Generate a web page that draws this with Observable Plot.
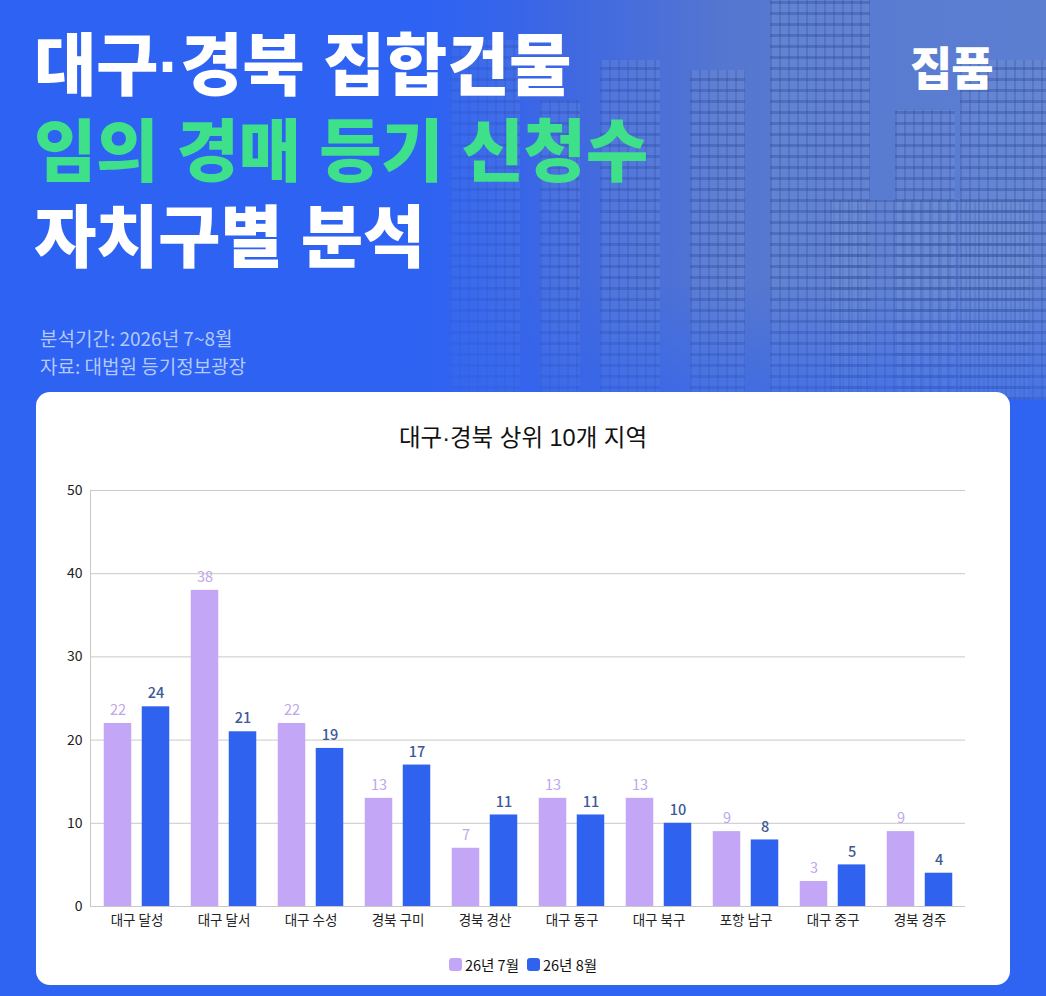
<!DOCTYPE html>
<html>
<head>
<meta charset="utf-8">
<script src="https://cdn.jsdelivr.net/npm/d3@7"></script>
<script src="https://cdn.jsdelivr.net/npm/@observablehq/plot@0.6"></script>
<style>
  html, body { margin: 0; padding: 0; }
  body {
    width: 1046px; height: 996px; overflow: hidden; position: relative;
    background: #2f63f1;
    font-family: "Noto Sans CJK KR", "Noto Sans", sans-serif;
  }
  #hero {
    position: absolute; left: 0; top: 0; width: 1046px; height: 400px;
    background: linear-gradient(90deg, #2d62f3 0%, #2f63f1 38%, #4469dc 52%, #5677cf 70%, #5c7fd2 100%);
    overflow: hidden;
  }
  .bld {
    position: absolute; bottom: 0;
    background-color: rgba(120,150,215,0.35);
    background-image:
      repeating-linear-gradient(0deg, rgba(40,70,150,0.35) 0 3px, transparent 3px 11px),
      repeating-linear-gradient(90deg, rgba(40,70,150,0.25) 0 2px, transparent 2px 9px);
  }
  #fade {
    position: absolute; left: 0; top: 0; width: 1046px; height: 400px;
    background: linear-gradient(180deg, rgba(47,99,241,0) 0%, rgba(47,99,241,0) 70%, rgba(47,99,241,0.55) 100%),
                linear-gradient(90deg, rgba(45,98,243,1) 0%, rgba(45,98,243,0.9) 36%, rgba(45,98,243,0.25) 55%, rgba(45,98,243,0) 70%);
  }
  #title {
    position: absolute; left: 34px; top: 23px; margin: 0;
    font-family: "Liberation Sans", "Noto Sans CJK KR", sans-serif;
    font-weight: 900; font-size: 68px; line-height: 86px; letter-spacing: -0.5px;
    white-space: pre; color: transparent;
    background: linear-gradient(180deg, #ffffff 0px, #ffffff 86px, #3fe08a 86px, #3fe08a 172px, #ffffff 172px, #ffffff 258px);
    -webkit-background-clip: text; background-clip: text;
  }
  #brand { position: absolute; left: 910px; top: 32px; font-size: 46px; font-weight: 900; color: #ffffff; letter-spacing: -1px; }
  #meta { position: absolute; left: 40px; top: 324px; font-size: 19px; line-height: 28px; color: rgba(220,230,255,0.78); white-space: nowrap; }
  #card {
    position: absolute; left: 36px; top: 392px; width: 974px; height: 593px;
    background: #ffffff; border-radius: 14px;
  }
  #ctitle { position: absolute; left: 0; width: 974px; top: 27px; text-align: center; font-size: 23.5px; color: #111;
            font-family: "Liberation Sans", "Noto Sans CJK KR", sans-serif; }
  #chart { position: absolute; left: 0; top: 70px; }
  #legend { position: absolute; left: 0; width: 974px; top: 562px; display: flex; justify-content: center; gap: 8px; font-size: 14.5px; color: #111; }
  .li { display: flex; align-items: center; gap: 3px; }
  .sw { width: 13px; height: 13px; border-radius: 3px; display: inline-block; }
</style>
</head>
<body>
<div id="hero">
  <div class="bld" style="left:450px;width:70px;height:360px;"></div>
  <div class="bld" style="left:540px;width:40px;height:300px;"></div>
  <div class="bld" style="left:600px;width:60px;height:340px;"></div>
  <div class="bld" style="left:690px;width:55px;height:330px;"></div>
  <div class="bld" style="left:770px;width:100px;height:400px;"></div>
  <div class="bld" style="left:895px;width:60px;height:290px;"></div>
  <div class="bld" style="left:830px;width:200px;height:200px;"></div>
  <div class="bld" style="left:960px;width:86px;height:340px;"></div>
  <div id="fade"></div>
</div>
<div id="title"></div>
<div id="brand">집품</div>
<div id="meta">분석기간: 2026년 7~8월<br>자료: 대법원 등기정보광장</div>
<div id="card">
  <div id="ctitle">대구·경북 상위 10개 지역</div>
  <div id="chart"></div>
  <div id="legend"></div>
</div>
<script>
const titleLines = ["대구·경북 집합건물", "임의 경매 등기 신청수", "자치구별 분석"];
const regions = ["대구 달성","대구 달서","대구 수성","경북 구미","경북 경산","대구 동구","대구 북구","포항 남구","대구 중구","경북 경주"];
const months = ["26년 7월","26년 8월"];
const julValues = [22,38,22,13,7,13,13,9,3,9];
const augValues = [24,21,19,17,11,11,10,8,5,4];
const yTicks = [0,10,20,30,40,50];

const barColors = ["#c3a7f6", "#2f62ef"];
const labelColors = ["#c0a6ea", "#3b5a96"];

document.getElementById("title").textContent = titleLines.join("\n");

const jul = regions.map((r, i) => ({region: r, month: months[0], value: julValues[i]}));
const aug = regions.map((r, i) => ({region: r, month: months[1], value: augValues[i]}));

const font = "'Noto Sans CJK KR', 'Noto Sans', sans-serif";

const plot = Plot.plot({
  width: 974,
  height: 480,
  marginLeft: 54,
  marginRight: 45,
  marginTop: 28,
  marginBottom: 36,
  style: {fontFamily: font, fontSize: "13px", color: "#222", background: "transparent"},
  x: {domain: regions, padding: 0, label: null},
  y: {domain: [0, 50], label: null},
  marks: [
    Plot.gridY(yTicks, {stroke: "#c9c9c9", strokeOpacity: 1}),
    Plot.frame({anchor: "left", stroke: "#c9c9c9"}),
    Plot.barY(jul, {x: "region", y: "value", fill: barColors[0], insetLeft: 10.75, insetRight: 48.75}),
    Plot.barY(aug, {x: "region", y: "value", fill: barColors[1], insetLeft: 48.75, insetRight: 10.75}),
    Plot.text(jul, {x: "region", y: "value", text: d => String(d.value), dx: -19, dy: -13, fill: labelColors[0], fontSize: 14.5}),
    Plot.text(aug, {x: "region", y: "value", text: d => String(d.value), dx: 19, dy: -13, fill: labelColors[1], fontSize: 14.5, fontWeight: 500}),
    Plot.axisY(yTicks, {tickSize: 0, tickPadding: 8, fill: "#222", fontSize: 14, label: null}),
    Plot.axisX({tickSize: 0, tickPadding: 9, fill: "#222", fontSize: 13.5, label: null})
  ]
});
document.getElementById("chart").appendChild(plot);

const legend = document.getElementById("legend");
months.forEach((m, i) => {
  const item = document.createElement("div");
  item.className = "li";
  const sw = document.createElement("span");
  sw.className = "sw";
  sw.style.background = barColors[i];
  const tx = document.createElement("span");
  tx.textContent = m;
  item.appendChild(sw);
  item.appendChild(tx);
  legend.appendChild(item);
});
</script>
</body>
</html>
